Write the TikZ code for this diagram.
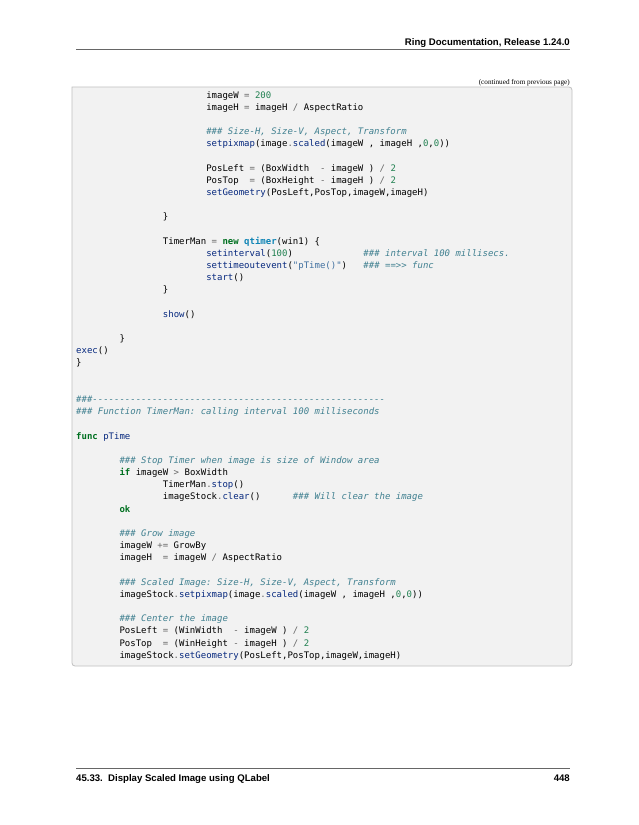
\documentclass[tikz,border=0pt]{standalone}
\usepackage{fontspec}
\setmainfont{Liberation Serif}
\setmonofont{DejaVu Sans Mono}
\newfontfamily\hdr{Liberation Sans}
\definecolor{kw}{HTML}{007020}
\definecolor{fn}{HTML}{06287E}
\definecolor{nm}{HTML}{208050}
\definecolor{cm}{HTML}{408090}
\definecolor{op}{HTML}{666666}
\definecolor{st}{HTML}{4070A0}
\definecolor{cl}{HTML}{0E84B5}
\definecolor{boxbg}{HTML}{F2F2F2}
\definecolor{boxln}{HTML}{C0C0C0}
\newcommand\K[1]{\textcolor{kw}{\bfseries #1}}
\newcommand\F[1]{\textcolor{fn}{#1}}
\newcommand\N[1]{\textcolor{nm}{#1}}
\newcommand\C[1]{\textcolor{cm}{\itshape #1}}
\newcommand\OP[1]{\textcolor{op}{#1}}
\newcommand\SG[1]{\textcolor{st}{#1}}
\newcommand\CL[1]{\textcolor{cl}{\bfseries #1}}
\begin{document}
\begin{tikzpicture}[x=1pt,y=-1pt,
  code/.style={anchor=base west,inner sep=0pt,font=\ttfamily\fontsize{9}{12}\selectfont},
  hd/.style={inner sep=0pt,font=\hdr\bfseries\fontsize{9.6}{11}\selectfont}]
\useasboundingbox (0,0) rectangle (638,825);
\fill[white] (0,0) rectangle (638,825);
% header / footer
\node[hd,anchor=base east] (head) at (570,45) {Ring Documentation, Release 1.24.0};
\draw[op,line width=0.8pt] (76,49.5) -- (570,49.5);
\draw[op,line width=0.8pt] (76,768) -- (570,768);
\node[hd,anchor=base west] (foot) at (76,781) {45.33.\ \ Display Scaled Image using QLabel};
\node[hd,anchor=base east] (page) at (570,781) {448};
\node[anchor=base east,inner sep=0pt,font=\fontsize{7.2}{9}\selectfont] (cont) at (570,84) {(continued from previous page)};
% code box
\draw[boxln,fill=boxbg,line width=0.8pt,rounded corners=3pt] (72,87) -- (72,666) -- (572,666) -- (572,87) [sharp corners] -- cycle;
\def\yy#1{98+(#1-1)*12.18}
\def\xx#1{76+#1*43.36}
\node[code] (l1) at ({\xx3},{\yy1}) {imageW~\OP{=}~\N{200}};
\node[code] (l2) at ({\xx3},{\yy2}) {imageH~\OP{=}~imageH~\OP{/}~AspectRatio};
\node[code] (l4) at ({\xx3},{\yy4}) {\C{\#\#\#~Size-H,~Size-V,~Aspect,~Transform}};
\node[code] (l5) at ({\xx3},{\yy5}) {\F{setpixmap}(image\OP{.}\F{scaled}(imageW~,~imageH~,\N{0},\N{0}))};
\node[code] (l7) at ({\xx3},{\yy7}) {PosLeft~\OP{=}~(BoxWidth~~\OP{-}~imageW~)~\OP{/}~\N{2}};
\node[code] (l8) at ({\xx3},{\yy8}) {PosTop~~\OP{=}~(BoxHeight~\OP{-}~imageH~)~\OP{/}~\N{2}};
\node[code] (l9) at ({\xx3},{\yy9}) {\F{setGeometry}(PosLeft,PosTop,imageW,imageH)};
\node[code] (l11) at ({\xx2},{\yy{11}}) {\}};
\node[code] (l13) at ({\xx2},{\yy{13}}) {TimerMan~\OP{=}~\K{new}~\CL{qtimer}(win1)~\{};
\node[code] (l14) at ({\xx3},{\yy{14}}) {\F{setinterval}(\N{100})~~~~~~~~~~~~~\C{\#\#\#~interval~100~millisecs.}};
\node[code] (l15) at ({\xx3},{\yy{15}}) {\F{settimeoutevent}(\SG{"pTime()"})~~~\C{\#\#\#~==>>~func}};
\node[code] (l16) at ({\xx3},{\yy{16}}) {\F{start}()};
\node[code] (l17) at ({\xx2},{\yy{17}}) {\}};
\node[code] (l19) at ({\xx2},{\yy{19}}) {\F{show}()};
\node[code] (l21) at ({\xx1},{\yy{21}}) {\}};
\node[code] (l22) at ({\xx0},{\yy{22}}) {\F{exec}()};
\node[code] (l23) at ({\xx0},{\yy{23}}) {\}};
\node[code] (l26) at ({\xx0},{\yy{26}}) {\C{\#\#\#------------------------------------------------------}};
\node[code] (l27) at ({\xx0},{\yy{27}}) {\C{\#\#\#~Function~TimerMan:~calling~interval~100~milliseconds}};
\node[code] (l29) at ({\xx0},{\yy{29}}) {\K{func}~\F{pTime}};
\node[code] (l31) at ({\xx1},{\yy{31}}) {\C{\#\#\#~Stop~Timer~when~image~is~size~of~Window~area}};
\node[code] (l32) at ({\xx1},{\yy{32}}) {\K{if}~imageW~\OP{>}~BoxWidth};
\node[code] (l33) at ({\xx2},{\yy{33}}) {TimerMan\OP{.}\F{stop}()};
\node[code] (l34) at ({\xx2},{\yy{34}}) {imageStock\OP{.}\F{clear}()~~~~~~\C{\#\#\#~Will~clear~the~image}};
\node[code] (l35) at ({\xx1},{\yy{35}}) {\K{ok}};
\node[code] (l37) at ({\xx1},{\yy{37}}) {\C{\#\#\#~Grow~image}};
\node[code] (l38) at ({\xx1},{\yy{38}}) {imageW~\OP{+=}~GrowBy};
\node[code] (l39) at ({\xx1},{\yy{39}}) {imageH~~\OP{=}~imageW~\OP{/}~AspectRatio};
\node[code] (l41) at ({\xx1},{\yy{41}}) {\C{\#\#\#~Scaled~Image:~Size-H,~Size-V,~Aspect,~Transform}};
\node[code] (l42) at ({\xx1},{\yy{42}}) {imageStock\OP{.}\F{setpixmap}(image\OP{.}\F{scaled}(imageW~,~imageH~,\N{0},\N{0}))};
\node[code] (l44) at ({\xx1},{\yy{44}}) {\C{\#\#\#~Center~the~image}};
\node[code] (l45) at ({\xx1},{\yy{45}}) {PosLeft~\OP{=}~(WinWidth~~\OP{-}~imageW~)~\OP{/}~\N{2}};
\node[code] (l46) at ({\xx1},{\yy{46}}) {PosTop~~\OP{=}~(WinHeight~\OP{-}~imageH~)~\OP{/}~\N{2}};
\node[code] (l47) at ({\xx1},{\yy{47}}) {imageStock\OP{.}\F{setGeometry}(PosLeft,PosTop,imageW,imageH)};
\end{tikzpicture}
\end{document}
